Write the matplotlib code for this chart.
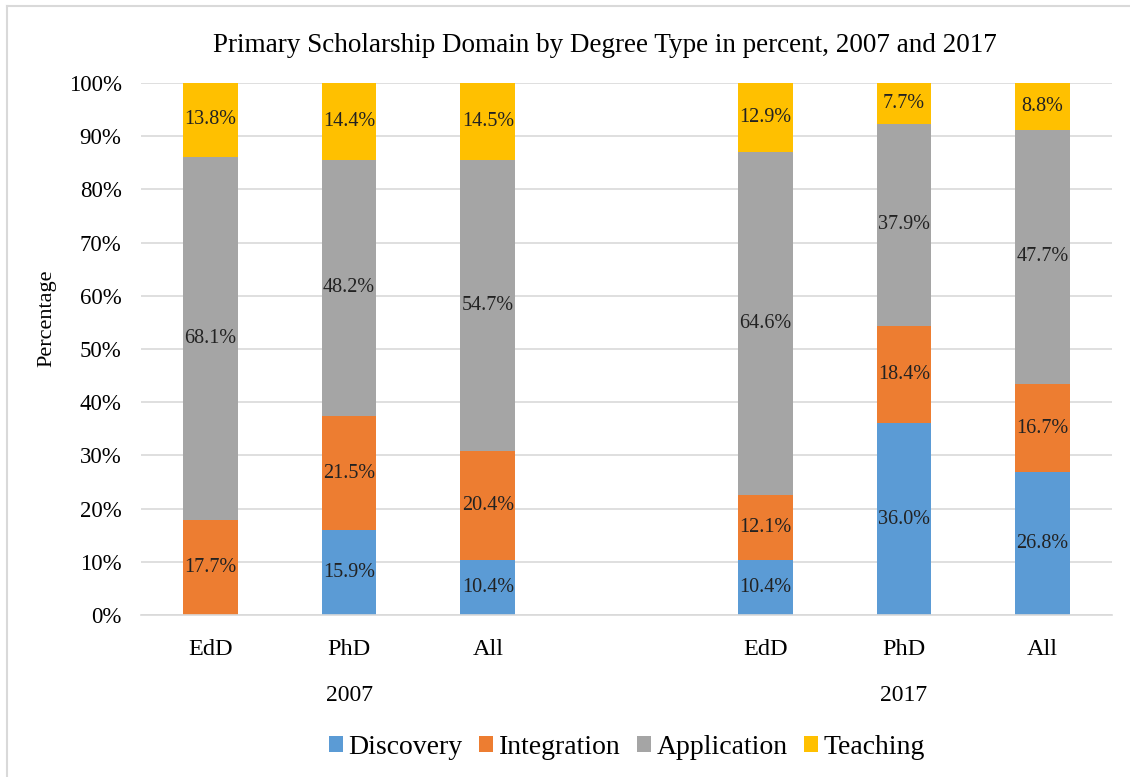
import numpy as np
import matplotlib
matplotlib.use("Agg")
import matplotlib.pyplot as plt
from matplotlib.lines import Line2D
from matplotlib.patches import Patch

# chart data (percent)
years = ["2007", "2017"]
degrees = ["EdD", "PhD", "All"]
series = ["Discovery", "Integration", "Application", "Teaching"]
colors = ["#5B9BD5", "#ED7D31", "#A5A5A5", "#FFC000"]
discovery = [0.0, 15.9, 10.4, 10.4, 36.0, 26.8]
integration = [17.7, 21.5, 20.4, 12.1, 18.4, 16.7]
application = [68.1, 48.2, 54.7, 64.6, 37.9, 47.7]
teaching = [13.8, 14.4, 14.5, 12.9, 7.7, 8.8]

plt.rcParams['font.family'] = ['Liberation Serif', 'DejaVu Serif']

fig = plt.figure(figsize=(11.3, 7.77), dpi=100)
ax = fig.add_axes([141/1130, 1 - 615/777, 971/1130, 532/777])

# positions: 3 bars, empty slot, 3 bars
xpos = np.array([0, 1, 2, 4, 5, 6])
values = np.array([discovery, integration, application, teaching])
totals = values.sum(axis=0)
shares = values / totals * 100  # 100% stacked like the original

bottom = np.zeros(len(xpos))
for k in range(len(series)):
    ax.bar(xpos, shares[k], 0.395, bottom=bottom, color=colors[k], zorder=2)
    for i in range(len(xpos)):
        if values[k, i] > 0:
            ax.text(xpos[i], bottom[i] + shares[k, i] / 2, f"{values[k, i]:.1f}%",
                    ha='center', va='center', fontsize=14.5, color='#222222', zorder=3)
    bottom += shares[k]

ax.set_xlim(-0.5, 6.5)
ax.set_ylim(0, 100)
ax.set_yticks(np.arange(0, 101, 10))
ax.set_yticklabels([f"{t}%" for t in range(0, 101, 10)], fontsize=16.5)
ax.yaxis.grid(True, color='#D9D9D9', linewidth=1.2, zorder=0)
ax.set_axisbelow(True)
ax.tick_params(axis='y', length=0, pad=14)
ax.tick_params(axis='x', length=0, pad=17)
ax.set_xticks(xpos)
ax.set_xticklabels(degrees * 2, fontsize=17.5)
for s in ['top', 'right', 'left']:
    ax.spines[s].set_visible(False)
ax.spines['bottom'].set_color('#D9D9D9')
ax.spines['bottom'].set_linewidth(1.2)

ax.set_ylabel("Percentage", fontsize=16)
ax.yaxis.set_label_coords(-0.087, (615 - 318) / 532)

# group labels under the categories
for j, yr in enumerate(years):
    ax.text(xpos[3 * j + 1], -15.2, yr, ha='center', va='center', fontsize=17,
            transform=ax.transData)

fig.text(605/1130, 1 - 45/777, "Primary Scholarship Domain by Degree Type in percent, 2007 and 2017",
         ha='center', va='center', fontsize=19.5)

handles = [Patch(facecolor=c, edgecolor='none') for c in colors]
fig.legend(handles, series, loc='center', bbox_to_anchor=(627/1130, 1 - 747/777), ncol=4,
           frameon=False, fontsize=20, handlelength=0.5, handleheight=0.5,
           handletextpad=0.2, columnspacing=0.6)

# chart-area border (left and top edges visible in the reference)
fig.add_artist(Line2D([7/1130, 7/1130], [0, 1 - 6/777], color='#D9D9D9', linewidth=1.5,
                      transform=fig.transFigure))
fig.add_artist(Line2D([7/1130, 1], [1 - 6/777, 1 - 6/777], color='#D9D9D9', linewidth=1.5,
                      transform=fig.transFigure))

fig.savefig("out.png", dpi=100)
